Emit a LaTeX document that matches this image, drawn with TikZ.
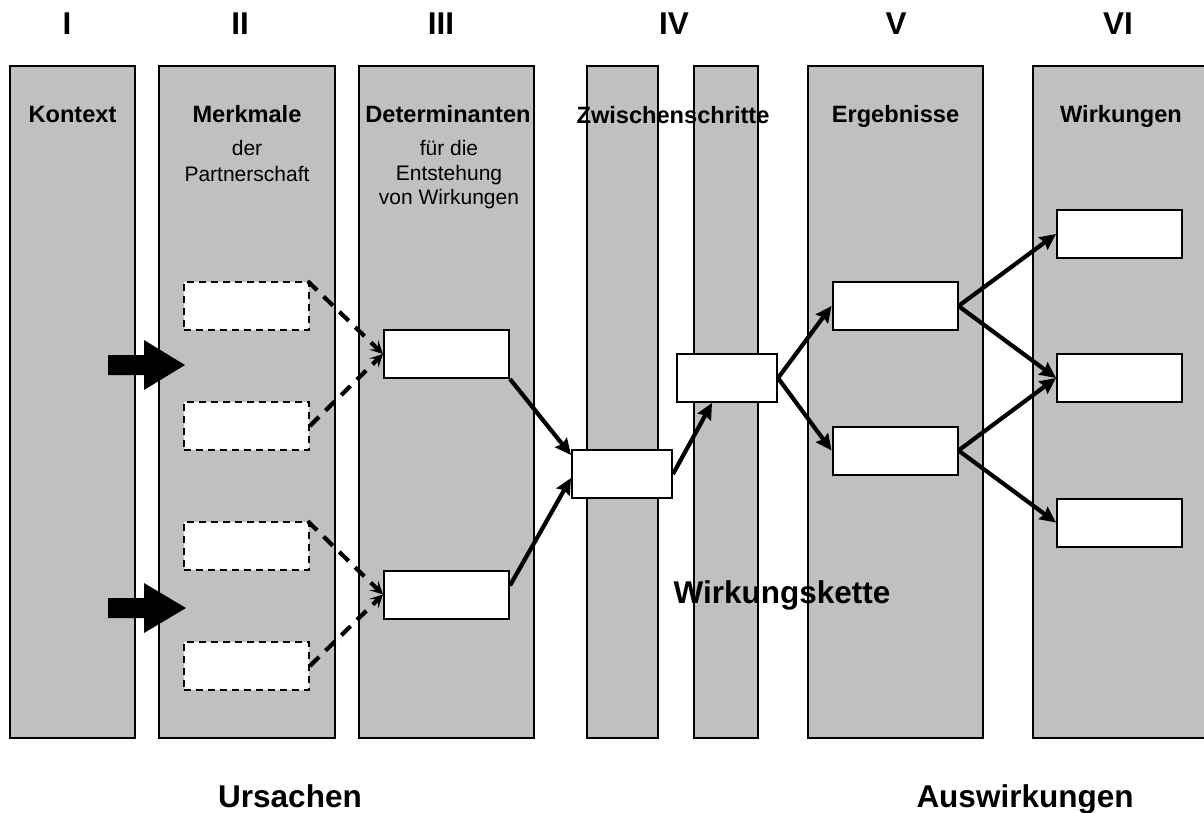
\documentclass[tikz,border=0pt]{standalone}
\usepackage{fontspec}
\setmainfont{Liberation Sans}
\usetikzlibrary{arrows.meta,calc}
\definecolor{colgray}{HTML}{C0C0C0}

\begin{document}
\begin{tikzpicture}[x=1pt,y=-1pt,
  column/.style={draw=black, line width=1.8pt, fill=colgray},
  box/.style={draw=black, line width=2pt, fill=white, inner sep=0pt,
    minimum height=48pt},
  dbox/.style={box, line width=1.6pt, dash pattern=on 7pt off 5pt,
    minimum width=125pt},
  tbox/.style={box, minimum width=125pt},
  sbox/.style={box, minimum width=100pt},
  flow/.style={line width=4.2pt, -{Stealth[length=16pt,width=15pt,inset=2pt]}},
  dflow/.style={line width=4.2pt, dash pattern=on 13pt off 9pt,
    -{Stealth[length=13pt,width=13pt,inset=6pt,line width=1.2pt]}},
  numeral/.style={font=\fontsize{31.5}{36}\selectfont\bfseries, anchor=base, inner sep=0pt},
  title/.style={font=\fontsize{23.6}{28}\selectfont\bfseries, anchor=base, inner sep=0pt},
  sub/.style={font=\fontsize{21}{25}\selectfont, anchor=base, inner sep=0pt},
  big/.style={font=\fontsize{31.5}{36}\selectfont\bfseries, anchor=base, inner sep=0pt},
  blockarrow/.style={fill=black}
]
\clip (0,0) rectangle (1204,812);

% columns
\filldraw[column] (10,66) rectangle (135,738);
\filldraw[column] (159,66) rectangle (335,738);
\filldraw[column] (359,66) rectangle (534,738);
\filldraw[column] (587,66) rectangle (658,738);
\filldraw[column] (694,66) rectangle (758,738);
\filldraw[column] (808,66) rectangle (983,738);
\filldraw[column] (1033,66) rectangle (1209,738);

% roman numerals
\node[numeral] (nI)   at (67,34)   {I};
\node[numeral] (nII)  at (240,34)  {II};
\node[numeral] (nIII) at (441,34)  {III};
\node[numeral] (nIV)  at (674,34)  {IV};
\node[numeral] (nV)   at (896,34)  {V};
\node[numeral] (nVI)  at (1118,34) {VI};

% column titles
\node[title] (tKon) at (72.5,122) {Kontext};
\node[title] (tMer) at (247,122) {Merkmale};
\node[sub]   (sMer1) at (247,155) {der};
\node[sub]   (sMer2) at (247,181) {Partnerschaft};
\node[title] (tDet) at (448,122) {Determinanten};
\node[sub]   (sDet1) at (449,155) {für die};
\node[sub]   (sDet2) at (449,180) {Entstehung};
\node[sub]   (sDet3) at (449,204) {von Wirkungen};
\node[title] (tZwi) at (673,123) {Zwischenschritte};
\node[title] (tErg) at (895.5,122) {Ergebnisse};
\node[title] (tWir) at (1121,122) {Wirkungen};

% block arrows from the context column
\fill[blockarrow] (108,355) -- (144,355) -- (144,340) -- (185,365)
  -- (144,390) -- (144,375) -- (108,375) -- cycle;
\fill[blockarrow] (108,598) -- (144,598) -- (144,583) -- (186,608)
  -- (144,633) -- (144,618) -- (108,618) -- cycle;

% boxes
\node[dbox] (d1) at (246.5,306) {};
\node[dbox] (d2) at (246.5,426) {};
\node[dbox] (d3) at (246.5,546) {};
\node[dbox] (d4) at (246.5,666) {};
\node[tbox] (t1) at (446.5,354) {};
\node[tbox] (t2) at (446.5,594.5) {};
\node[sbox] (ia) at (622,474) {};
\node[sbox] (ib) at (727,378) {};
\node[tbox] (e1) at (895,306) {};
\node[tbox] (e2) at (895,450.5) {};
\node[tbox] (w1) at (1119.5,234) {};
\node[tbox] (w2) at (1119.5,378) {};
\node[tbox] (w3) at (1119.5,522.5) {};

% dashed links
\draw[dflow] ([xshift=-2pt]d1.north east) -- (t1.west);
\draw[dflow] (d2.east) -- (t1.west);
\draw[dflow] ([xshift=-2pt]d3.north east) -- (t2.west);
\draw[dflow] (d4.east) -- (t2.west);

% solid chain
\draw[flow] (t1.south east) -- ([yshift=19pt]ia.west);
\draw[flow] ([yshift=9pt]t2.east) -- ([yshift=-4pt]ia.west);
\draw[flow] (ia.east) -- ([xshift=-15pt]ib.south);
\draw[flow] (ib.east) -- (e1.west);
\draw[flow] (ib.east) -- (e2.west);
\draw[flow] (e1.east) -- (w1.west);
\draw[flow] (e1.east) -- (w2.west);
\draw[flow] (e2.east) -- (w2.west);
\draw[flow] (e2.east) -- (w3.west);

% bottom labels
\node[big] (lKette) at (782,603) {Wirkungskette};
\node[big] (lUrs) at (290,807) {Ursachen};
\node[big] (lAus) at (1025,807) {Auswirkungen};
\end{tikzpicture}
\end{document}
